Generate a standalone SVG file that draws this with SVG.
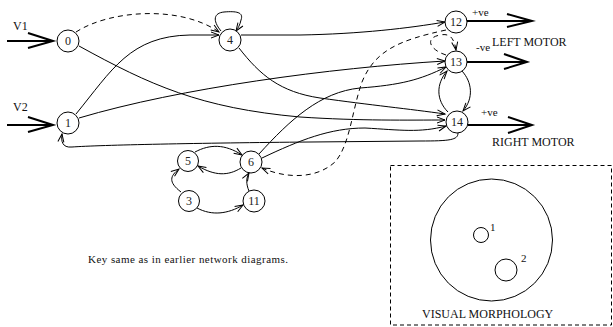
<svg xmlns="http://www.w3.org/2000/svg" width="613" height="327" viewBox="0 0 613 327">
  <defs>
    <marker id="arr" markerUnits="userSpaceOnUse" markerWidth="10" markerHeight="8" refX="8" refY="3" orient="auto" overflow="visible">
      <path d="M0,0 L8,3 L0,6" fill="none" stroke="#000" stroke-width="1"/>
    </marker>
  </defs>
  <style>
    .node circle { fill: #fff; stroke: #000; stroke-width: 1; }
    .node text { font-family: "Liberation Serif", "Times New Roman", serif; font-size: 12px; text-anchor: middle; fill: #222; }
    .edge { fill: none; stroke: #000; stroke-width: 1; marker-end: url(#arr); }
    .dash { stroke-dasharray: 5 4; }
    .io { fill: none; stroke: #000; stroke-width: 2; }
    .lbl { font-family: "Liberation Serif", "Times New Roman", serif; font-size: 12px; fill: #111; }
    .sm { font-size: 11px; }
  </style>

  <rect width="613" height="327" fill="#fff"/>

  <!-- connectors -->
  <g id="connectors">
    <!-- 0 -> 4 (dashed) -->
    <path class="edge dash" d="M76,32 C110,10 180,5 219,32"/>
    <!-- 4 self loop -->
    <path class="edge" d="M221,31 C212,20 214,13 224,12 C236,11 244,12 241,20 C240,25 238,28 236,31"/>
    <!-- 1 -> 4 -->
    <path class="edge" d="M76,114 C112,70 130,36 190,35 L219,35"/>
    <!-- 0 -> 14 -->
    <path class="edge" d="M79,46 C150,85 200,108 300,117 C360,121 410,120 445,120"/>
    <!-- 4 -> 14 -->
    <path class="edge" d="M239,48 C260,75 280,92 320,98 C370,105 410,109 445,114"/>
    <!-- 1 -> 13 -->
    <path class="edge" d="M79,118 C180,88 330,68 445,61"/>
    <!-- 4 -> 12 -->
    <path class="edge" d="M241,35 L300,35 C360,34 410,28 445,22"/>
    <!-- 6 -> 13 -->
    <path class="edge" d="M259,154 C290,120 320,92 360,88 C400,85 420,80 446,67"/>
    <!-- 6 -> 14 -->
    <path class="edge" d="M262,158 C300,140 330,128 365,128 C400,130 420,133 446,126"/>
    <!-- 14 -> 1 -->
    <path class="edge" d="M458,133 C458,140 450,141 420,141 L310,142 C200,143 100,145 72,147 C62,148 61,141 62,134"/>
    <!-- 12 -> 6 (dashed) -->
    <path class="edge dash" d="M446,30 C400,40 375,50 362,82 C352,110 350,145 335,162 C315,180 285,178 262,168"/>
    <!-- 13 self loop (dashed) -->
    <path class="edge dash" d="M446,55 C430,50 424,38 440,35 C450,33 454,38 456,50"/>
    <!-- 13 -> 14 -->
    <path class="edge" d="M462,71 C472,82 474,98 463,111"/>
    <!-- 14 -> 13 -->
    <path class="edge" d="M448,112 C436,100 436,84 447,71"/>
    <!-- 5 -> 6 -->
    <path class="edge" d="M195,152 C210,144 225,144 242,155"/>
    <!-- 6 -> 5 -->
    <path class="edge" d="M241,168 C228,176 215,176 198,166"/>
    <!-- 3 -> 5 -->
    <path class="edge" d="M181,192 C168,182 170,176 179,169"/>
    <!-- 3 -> 11 -->
    <path class="edge" d="M197,208 C212,216 228,214 243,205"/>
    <!-- 11 -> 6 -->
    <path class="edge" d="M249,191 C246,184 246,178 249,173"/>
  </g>

  <!-- inputs -->
  <g id="input-v1">
    <path class="io" d="M7,41 L53,41 M28,33 L53,41 L28,48"/>
    <text class="lbl" x="13" y="30">V1</text>
  </g>
  <g id="input-v2">
    <path class="io" d="M7,125 L53,125 M28,117 L53,125 L28,132"/>
    <text class="lbl" x="13" y="111">V2</text>
  </g>

  <!-- motor outputs -->
  <g id="out-12">
    <path class="io" d="M467,21 L532,21 M507,14 L532,21 L507,27"/>
    <text class="lbl sm" x="472" y="16">+ve</text>
  </g>
  <g id="out-13">
    <path class="io" d="M467,62 L527,62 M504,54 L527,62 L504,69"/>
    <text class="lbl sm" x="476" y="51">-ve</text>
    <text class="lbl" x="492" y="46">LEFT MOTOR</text>
  </g>
  <g id="out-14">
    <path class="io" d="M468,125 L532,125 M508,117 L532,125 L508,133"/>
    <text class="lbl sm" x="481" y="116">+ve</text>
    <text class="lbl" x="492" y="146">RIGHT MOTOR</text>
  </g>

  <!-- nodes -->
  <g id="n0" class="node"><circle cx="68" cy="41" r="11"/><text x="68" y="45">0</text></g>
  <g id="n1" class="node"><circle cx="68" cy="123" r="11"/><text x="68" y="127">1</text></g>
  <g id="n4" class="node"><circle cx="230" cy="40" r="11"/><text x="230" y="44">4</text></g>
  <g id="n12" class="node"><circle cx="456" cy="22" r="11"/><text x="456" y="26">12</text></g>
  <g id="n13" class="node"><circle cx="456" cy="62" r="11"/><text x="456" y="66">13</text></g>
  <g id="n14" class="node"><circle cx="457" cy="122" r="11"/><text x="457" y="126">14</text></g>
  <g id="n5" class="node"><circle cx="188" cy="161" r="10.5"/><text x="188" y="165">5</text></g>
  <g id="n6" class="node"><circle cx="251" cy="162" r="11"/><text x="251" y="166">6</text></g>
  <g id="n3" class="node"><circle cx="189" cy="201" r="10.5"/><text x="189" y="205">3</text></g>
  <g id="n11" class="node"><circle cx="254" cy="201" r="11"/><text x="254" y="205">11</text></g>

  <text class="lbl sm" x="88" y="263" textLength="200">Key same as in earlier network diagrams.</text>

  <!-- visual morphology panel -->
  <g id="morphology">
    <rect x="390.5" y="165.5" width="221" height="159.5" fill="none" stroke="#000" stroke-width="1" stroke-dasharray="4 3"/>
    <circle cx="491.5" cy="240" r="61" fill="none" stroke="#000" stroke-width="1"/>
    <circle cx="481" cy="235" r="7.5" fill="none" stroke="#000" stroke-width="1"/>
    <text class="lbl sm" x="490" y="231">1</text>
    <circle cx="506" cy="270" r="11" fill="none" stroke="#000" stroke-width="1"/>
    <text class="lbl sm" x="521" y="262">2</text>
    <text class="lbl" x="422" y="318">VISUAL MORPHOLOGY</text>
  </g>
</svg>
